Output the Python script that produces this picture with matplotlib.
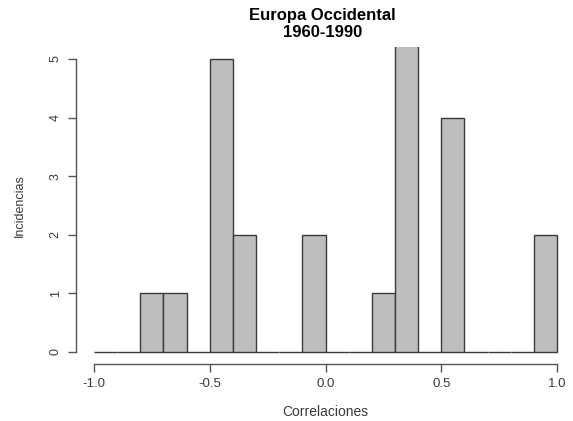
import numpy as np
import matplotlib
matplotlib.use("Agg")
import matplotlib.pyplot as plt

# histogram of correlations, breaks every 0.1 from -1 to 1
breaks = np.round(np.arange(-1.0, 1.01, 0.1), 2)
counts = [0, 0, 1, 1, 0, 5, 2, 0, 0, 2, 0, 0, 1, 6, 0, 4, 0, 0, 0, 2]
xticks = [-1.0, -0.5, 0.0, 0.5, 1.0]
yticks = [0, 1, 2, 3, 4, 5]

plt.rcParams['font.family'] = ['Liberation Sans', 'DejaVu Sans']

fig = plt.figure(figsize=(5.73, 4.21), dpi=100)
ax = fig.add_axes([75.5 / 573, (421 - 363.7) / 421, 500 / 573, (363.7 - 47.3) / 421])

ax.bar(breaks[:-1], counts, width=np.diff(breaks), align='edge',
       color='#bebebe', edgecolor='#3a3a3a', linewidth=1.0)

ax.set_xlim(-1.08, 1.08)
ax.set_ylim(-0.2, 5.2)

for s in ['top', 'right']:
    ax.spines[s].set_visible(False)
ax.spines['left'].set_bounds(0, 5)
ax.spines['bottom'].set_bounds(-1, 1)
for s in ['left', 'bottom']:
    ax.spines[s].set_color('#555555')
    ax.spines[s].set_linewidth(1.0)

ax.set_xticks(xticks)
ax.set_xticklabels(['%.1f' % v for v in xticks])
ax.set_yticks(yticks)
ax.set_yticklabels([str(v) for v in yticks], rotation=90, va='center')
ax.tick_params(colors='#555555', labelcolor='#3a3a3a', length=6, width=1.0,
               labelsize=9.5, pad=4)
ax.tick_params(axis='y', labelsize=9)

ax.set_xlabel("Correlaciones", fontsize=10, color='#3a3a3a', labelpad=11)
ax.set_ylabel("Incidencias", fontsize=9, color='#3a3a3a', labelpad=17)

fig.text(0.563, 0.943, "Europa Occidental\n1960-1990", ha='center', va='center',
         fontsize=12, fontweight='bold', linespacing=1.15)

fig.savefig("out.png", dpi=100)
